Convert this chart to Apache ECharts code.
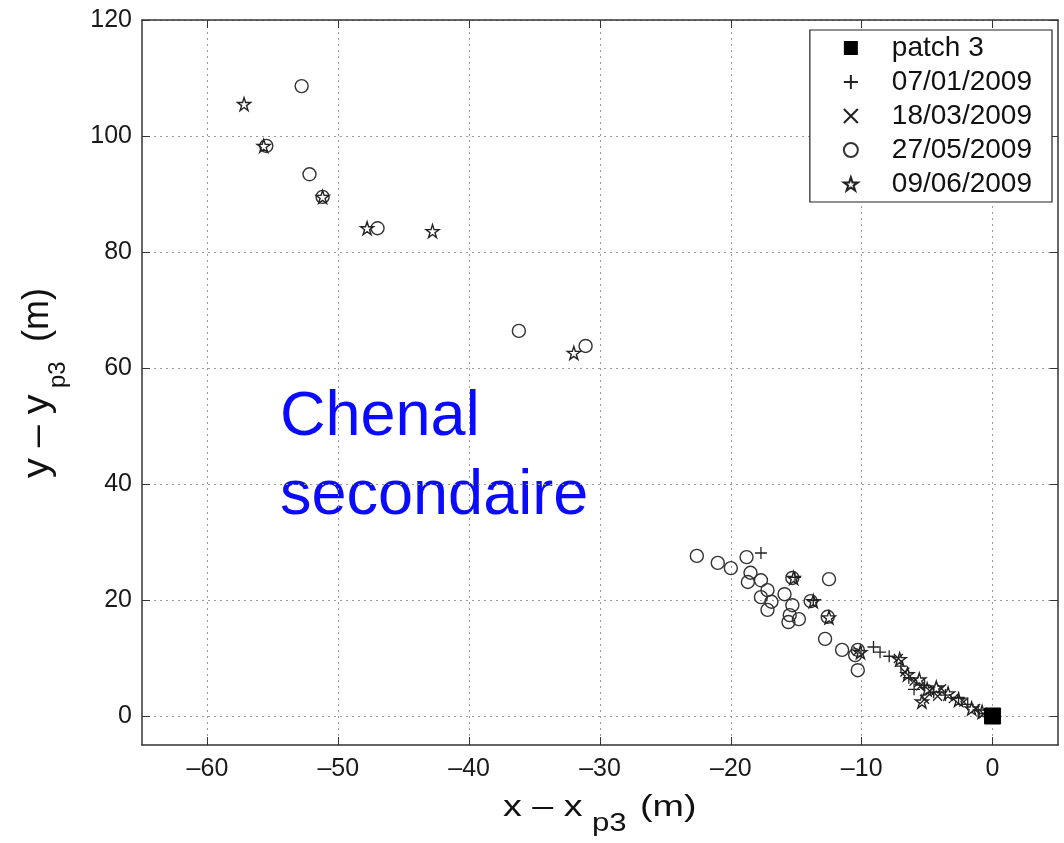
<!DOCTYPE html>
<html>
<head>
<meta charset="utf-8">
<script src="https://cdn.jsdelivr.net/npm/echarts@6/dist/echarts.min.js"></script>
<style>html,body{margin:0;padding:0;background:#fff}#c{width:1064px;height:843px}</style>
</head>
<body>
<div id="c"></div>
<script>
// ---- data (metres relative to patch 3) ----
const xRange = [-65, 5];
const yRange = [-5, 120];
const xTickRange = [-60, 0];   // labelled ticks every 10
const yTickRange = [0, 120];   // labelled ticks every 20
const seriesNames = ['patch 3', '07/01/2009', '18/03/2009', '27/05/2009', '09/06/2009'];
const patch3 = [[0, 0]];
const d0701 = [[-17.7,28.1],[-15.1,23.9],[-13.7,19.9],[-9.1,11.9],[-8.6,11.0],[-7.9,10.3],[-7.0,8.6],[-6.4,6.6],[-6.0,4.6],[-5.2,5.3],[-4.5,4.1],[-3.6,3.6],[-2.6,3.2],[-1.9,2.0],[-1.1,1.0],[-0.5,0.4]];
const d1803 = [[-10.3,11.2],[-7.2,9.9],[-6.7,7.6],[-6.0,6.0],[-5.5,5.2],[-4.8,4.3],[-4.2,3.4],[-3.9,4.7],[-3.0,3.0],[-2.2,2.4],[-1.3,1.3],[-0.7,0.4],[-5.2,2.9]];
const d2705 = [[-52.8,108.6],[-55.5,98.3],[-52.2,93.4],[-51.2,89.5],[-47.0,84.1],[-36.2,66.4],[-31.1,63.8],
  [-22.6,27.6],[-21.0,26.4],[-20.0,25.5],[-18.8,27.4],[-18.5,24.7],[-18.7,23.1],[-17.7,23.4],[-17.2,21.7],[-17.7,20.5],[-16.9,19.7],[-17.2,18.3],[-15.9,21.0],[-15.3,19.1],[-15.5,17.4],[-14.8,16.7],[-15.6,16.2],[-15.3,23.8],[-12.5,23.6],[-13.9,19.8],[-12.6,17.1],[-12.8,13.3],[-11.5,11.4],[-10.3,11.4],[-10.5,10.5],[-10.3,7.9]];
const d0906 = [[-57.2,105.5],[-55.7,98.3],[-51.2,89.5],[-47.8,84.1],[-42.8,83.6],[-32.0,62.6],[-15.2,23.8],[-13.7,19.8],[-12.5,17.0],[-10.1,11.0],[-7.1,9.8],[-6.5,7.2],[-5.6,6.3],[-5.0,4.6],[-4.3,4.9],[-3.4,3.9],[-2.6,2.8],[-1.6,1.3],[-0.8,0.7],[-5.4,2.5]];

const FONT = 'Liberation Sans';
const INK = '#222';
const PLUS = 'path://M50,0 L50,100 M0,50 L100,50';
const CROSS = 'path://M0,0 L100,100 M100,0 L0,100';
const STAR = 'path://M0,-100 L22.45,-30.9 L95.1,-30.9 L36.3,11.8 L58.8,80.9 L0,38.2 L-58.8,80.9 L-36.3,11.8 L-95.1,-30.9 L-22.45,-30.9 Z';
const fmt = v => (v < 0 ? '\u2013' + Math.abs(v) : String(v));

// layout of the plot box
const L = 142, R = 6, T = 20, B = 98, WIDTH = 1064, HEIGHT = 843;
const pxX = (WIDTH - L - R) / (xRange[1] - xRange[0]);
const pxY = (HEIGHT - T - B) / (yRange[1] - yRange[0]);

const gridLineStyle = {color: '#9a9a9a', type: [2, 4], width: 1};
const boxLine = {show: true, onZero: false, lineStyle: {color: '#333', width: 1.5}};
const tickIn = {show: true, inside: true, length: 8, lineStyle: {color: '#333', width: 1}};
const noAxis = {show: true, axisLine: {show: false}, axisTick: {show: false}, axisLabel: {show: false}, splitLine: {show: false}};

const chart = echarts.init(document.getElementById('c'));
chart.setOption({
  animation: false,
  backgroundColor: '#fff',
  grid: [
    {left: L, right: R, top: T, bottom: B},
    {left: L + (xTickRange[0] - xRange[0]) * pxX, right: R + (xRange[1] - xTickRange[1]) * pxX, top: T, bottom: B},
    {left: L, right: R, top: T + (yRange[1] - yTickRange[1]) * pxY, bottom: B + (yTickRange[0] - yRange[0]) * pxY}
  ],
  xAxis: [
    {gridIndex: 0, type: 'value', min: xRange[0], max: xRange[1], interval: 5, axisLine: boxLine, axisTick: {show: false}, axisLabel: {show: false}, splitLine: {show: false}},
    {gridIndex: 0, type: 'value', position: 'top', min: xRange[0], max: xRange[1], interval: 5, axisLine: boxLine, axisTick: {show: false}, axisLabel: {show: false}, splitLine: {show: false}},
    {gridIndex: 1, type: 'value', min: xTickRange[0], max: xTickRange[1], interval: 10,
      axisLine: {show: false, onZero: false}, axisTick: tickIn,
      splitLine: {show: true, lineStyle: gridLineStyle},
      axisLabel: {fontFamily: FONT, fontSize: 25, color: '#1a1a1a', margin: 12, formatter: fmt}},
    {gridIndex: 1, type: 'value', position: 'top', min: xTickRange[0], max: xTickRange[1], interval: 10,
      axisLine: {show: false, onZero: false}, axisTick: tickIn, axisLabel: {show: false}, splitLine: {show: false}},
    Object.assign({gridIndex: 2, type: 'value', min: 0, max: 1}, noAxis, {show: false})
  ],
  yAxis: [
    {gridIndex: 0, type: 'value', min: yRange[0], max: yRange[1], interval: 5, axisLine: boxLine, axisTick: {show: false}, axisLabel: {show: false}, splitLine: {show: false}},
    {gridIndex: 0, type: 'value', position: 'right', min: yRange[0], max: yRange[1], interval: 5, axisLine: boxLine, axisTick: {show: false}, axisLabel: {show: false}, splitLine: {show: false}},
    Object.assign({gridIndex: 1, type: 'value', min: 0, max: 1}, noAxis, {show: false}),
    {gridIndex: 2, type: 'value', min: yTickRange[0], max: yTickRange[1], interval: 20,
      axisLine: {show: false, onZero: false}, axisTick: tickIn,
      splitLine: {show: true, lineStyle: gridLineStyle},
      axisLabel: {fontFamily: FONT, fontSize: 25, color: '#1a1a1a', margin: 10, formatter: fmt}},
    {gridIndex: 2, type: 'value', position: 'right', min: yTickRange[0], max: yTickRange[1], interval: 20,
      axisLine: {show: false, onZero: false}, axisTick: tickIn, axisLabel: {show: false}, splitLine: {show: false}}
  ],
  legend: {
    orient: 'vertical', right: 12, top: 30,
    data: seriesNames,
    backgroundColor: '#fff', borderColor: '#222', borderWidth: 1.2,
    padding: [4, 20, 4, 33], itemGap: 6, itemWidth: 14, itemHeight: 14,
    textStyle: {fontFamily: FONT, fontSize: 28, color: '#111', padding: [0, 0, 0, 29]}
  },
  series: [
    {name: seriesNames[1], type: 'scatter', data: d0701, symbol: PLUS, symbolSize: 12,
      itemStyle: {color: 'rgba(0,0,0,0)', borderColor: INK, borderWidth: 1.3, opacity: 1}},
    {name: seriesNames[2], type: 'scatter', data: d1803, symbol: CROSS, symbolSize: 9,
      itemStyle: {color: 'rgba(0,0,0,0)', borderColor: INK, borderWidth: 1.3, opacity: 1}},
    {name: seriesNames[3], type: 'scatter', data: d2705, symbol: 'circle', symbolSize: 13,
      itemStyle: {color: 'rgba(0,0,0,0)', borderColor: '#333', borderWidth: 1.4, opacity: 1}},
    {name: seriesNames[4], type: 'scatter', data: d0906, symbol: STAR, symbolSize: 13,
      itemStyle: {color: 'rgba(0,0,0,0)', borderColor: INK, borderWidth: 1.4, opacity: 1}},
    {name: seriesNames[0], type: 'scatter', data: patch3, symbol: 'rect', symbolSize: 16,
      itemStyle: {color: '#000', borderColor: '#000', opacity: 1}, z: 5}
  ],
  graphic: [
    {type: 'text', left: 280, top: 386, style: {text: 'Chenal', font: '63px "Liberation Sans"', fill: '#0a0aff'}},
    {type: 'text', left: 280, top: 465, style: {text: 'secondaire', font: '63px "Liberation Sans"', fill: '#0a0aff'}},
    // x axis title
    {type: 'text', x: 503, y: 808, scaleX: 1.3, style: {text: 'x \u2013 x', font: '29px "Liberation Sans"', fill: '#111', align: 'left', verticalAlign: 'middle'}},
    {type: 'text', x: 592, y: 824, scaleX: 1.2, style: {text: 'p3', font: '26px "Liberation Sans"', fill: '#111', align: 'left', verticalAlign: 'middle'}},
    {type: 'text', x: 640, y: 808, scaleX: 1.3, style: {text: '(m)', font: '29px "Liberation Sans"', fill: '#111', align: 'left', verticalAlign: 'middle'}},
    // y axis title (rotated)
    {type: 'group', x: 51, y: 478, rotation: Math.PI / 2, children: [
      {type: 'text', x: 0, y: -12.6, scaleX: 1.1, style: {text: 'y \u2013 y', font: '36px "Liberation Sans"', fill: '#111', align: 'left', verticalAlign: 'middle'}},
      {type: 'text', x: 90, y: 7.6, style: {text: 'p3', font: '24px "Liberation Sans"', fill: '#111', align: 'left', verticalAlign: 'middle'}},
      {type: 'text', x: 136, y: -12.6, style: {text: '(m)', font: '36px "Liberation Sans"', fill: '#111', align: 'left', verticalAlign: 'middle'}}
    ]}
  ]
});
</script>
</body>
</html>
